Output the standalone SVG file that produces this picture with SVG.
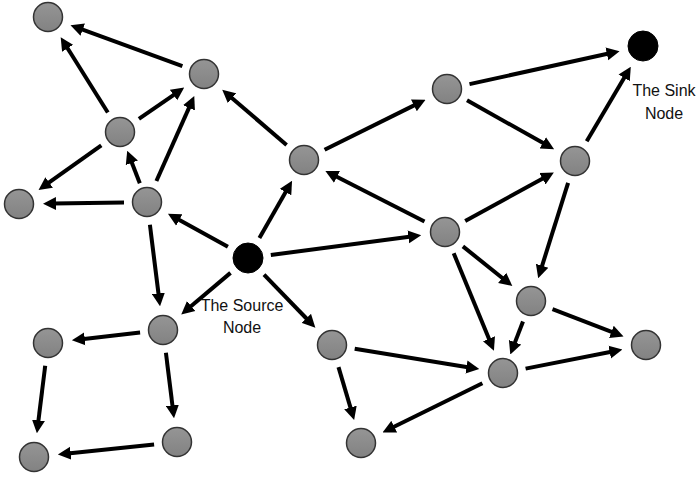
<svg xmlns="http://www.w3.org/2000/svg" width="699" height="478" viewBox="0 0 699 478">
<defs>
<linearGradient id="g" x1="0" y1="0" x2="0" y2="1">
<stop offset="0" stop-color="#959595"/>
<stop offset="1" stop-color="#828282"/>
</linearGradient>
<marker id="ah" viewBox="0 -7 13 14" refX="3" refY="0" markerWidth="13" markerHeight="14" markerUnits="userSpaceOnUse" orient="auto">
<path d="M0,-6.5 L13,0 L0,6.5 z" fill="#000"/>
</marker>
<style>
.n{fill:url(#g);stroke:#333;stroke-width:1.5}
.b{fill:#000;stroke:#000;stroke-width:1}
.e line{stroke:#000;stroke-width:4;marker-end:url(#ah)}
.t{font-family:"Liberation Sans",Arial,sans-serif;font-size:16px;fill:#111;text-anchor:middle}
</style>
</defs>
<rect width="699" height="478" fill="#fff"/>
<g id="connectors" class="e">
<line x1="182.4" y1="66.1" x2="79.9" y2="28.7"/>
<line x1="107.8" y1="112.5" x2="66" y2="45.8"/>
<line x1="138.9" y1="118.9" x2="176" y2="93.3"/>
<line x1="156.4" y1="181" x2="190.2" y2="105.1"/>
<line x1="101.3" y1="145.4" x2="46.7" y2="184.2"/>
<line x1="139.8" y1="183.3" x2="130.8" y2="160"/>
<line x1="124" y1="202.4" x2="53" y2="203.5"/>
<line x1="227.9" y1="246.8" x2="176.7" y2="218.5"/>
<line x1="149.9" y1="224.8" x2="158.8" y2="296.3"/>
<line x1="230.5" y1="272.9" x2="188.9" y2="308"/>
<line x1="259.4" y1="238" x2="287.1" y2="189.5"/>
<line x1="270.8" y1="255" x2="411.3" y2="236.5"/>
<line x1="264" y1="274.6" x2="308.4" y2="320.5"/>
<line x1="286.6" y1="145" x2="229.8" y2="96.2"/>
<line x1="324.6" y1="149.8" x2="416.6" y2="104.1"/>
<line x1="469.5" y1="84.1" x2="609.8" y2="53.3"/>
<line x1="467" y1="100.3" x2="545.4" y2="144.3"/>
<line x1="586.7" y1="141.2" x2="625.7" y2="75.3"/>
<line x1="424.5" y1="221.5" x2="334.3" y2="175.5"/>
<line x1="465.2" y1="221" x2="545.1" y2="177.3"/>
<line x1="568.1" y1="182.9" x2="541.2" y2="268.6"/>
<line x1="462.9" y1="246.4" x2="504.5" y2="279.7"/>
<line x1="453.7" y1="253.3" x2="490.1" y2="341.5"/>
<line x1="552.5" y1="309.2" x2="614.2" y2="332.9"/>
<line x1="523" y1="321.5" x2="513.9" y2="345.1"/>
<line x1="525.6" y1="368.6" x2="612.6" y2="351.5"/>
<line x1="354.7" y1="348.7" x2="469.4" y2="367.5"/>
<line x1="338.5" y1="367.1" x2="351.3" y2="410.4"/>
<line x1="482.4" y1="383.2" x2="391.5" y2="428"/>
<line x1="140.1" y1="332.6" x2="81.8" y2="339.2"/>
<line x1="165.9" y1="352.8" x2="172.8" y2="408.3"/>
<line x1="45.2" y1="365.8" x2="38.1" y2="423.3"/>
<line x1="154.1" y1="444.4" x2="67.8" y2="453.5"/>
</g>
<g id="n1"><circle class="n" cx="48" cy="17" r="14.5"/></g>
<g id="n2"><circle class="n" cx="204" cy="74" r="14.5"/></g>
<g id="n3"><circle class="n" cx="120" cy="132" r="14.5"/></g>
<g id="n4"><circle class="n" cx="19" cy="204" r="14.5"/></g>
<g id="n5"><circle class="n" cx="147" cy="202" r="14.5"/></g>
<g id="source"><circle class="b" cx="248" cy="258" r="15"/><text class="t" x="242" y="311">The Source</text><text class="t" x="242" y="333">Node</text></g>
<g id="n7"><circle class="n" cx="304" cy="160" r="14.5"/></g>
<g id="n8"><circle class="n" cx="447" cy="89" r="14.5"/></g>
<g id="sink"><circle class="b" cx="643" cy="46" r="15"/><text class="t" x="664" y="96">The Sink</text><text class="t" x="664" y="119">Node</text></g>
<g id="n10"><circle class="n" cx="575" cy="161" r="14.5"/></g>
<g id="n11"><circle class="n" cx="445" cy="232" r="14.5"/></g>
<g id="n12"><circle class="n" cx="531" cy="301" r="14.5"/></g>
<g id="n13"><circle class="n" cx="646" cy="345" r="14.5"/></g>
<g id="n14"><circle class="n" cx="503" cy="373" r="14.5"/></g>
<g id="n15"><circle class="n" cx="332" cy="345" r="14.5"/></g>
<g id="n16"><circle class="n" cx="361" cy="443" r="14.5"/></g>
<g id="n17"><circle class="n" cx="163" cy="330" r="14.5"/></g>
<g id="n18"><circle class="n" cx="48" cy="343" r="14.5"/></g>
<g id="n19"><circle class="n" cx="177" cy="442" r="14.5"/></g>
<g id="n20"><circle class="n" cx="34" cy="457" r="14.5"/></g>
</svg>
